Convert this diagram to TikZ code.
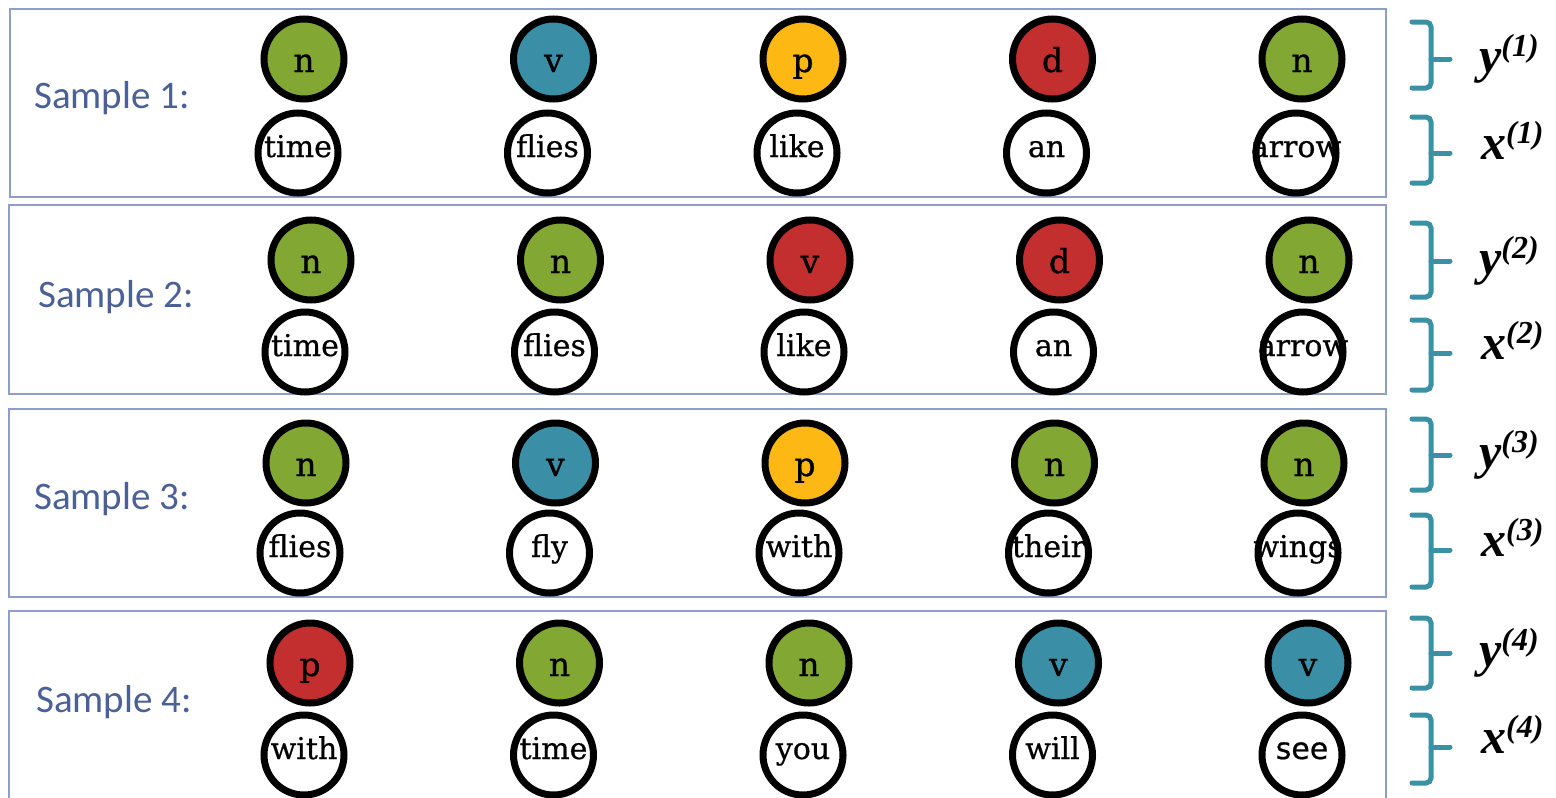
\documentclass[tikz,border=0pt]{standalone}
\usepackage{fontspec}
\newfontfamily\samplefont{Carlito}
\newfontfamily\wordfont[FakeBold=0.6]{DejaVu Serif}
\newfontfamily\tagfont[FakeBold=0.8]{DejaVu Serif}
\newfontfamily\sansword[FakeBold=0.6]{DejaVu Sans}
\newfontfamily\tmsfont{Liberation Serif}
\definecolor{gr}{HTML}{82A833}
\definecolor{te}{HTML}{3A8FA6}
\definecolor{ye}{HTML}{FDB813}
\definecolor{rd}{HTML}{C32F2F}
\definecolor{panelc}{HTML}{8E9DCA}
\definecolor{samplec}{HTML}{4A6096}
\definecolor{bracec}{HTML}{3A91A5}
\tikzset{
  panel/.style={draw=panelc, line width=2.5pt},
  tagc/.style={circle, draw=black, line width=7pt, minimum size=80pt, inner sep=0pt},
  wordc/.style={circle, draw=black, line width=7pt, minimum size=80pt, inner sep=0pt, fill=white},
  wtext/.style={anchor=base, inner sep=0pt, font=\wordfont\fontsize{30}{30}\selectfont},
  ttext/.style={anchor=base, inner sep=0pt, font=\tagfont\fontsize{33}{33}\selectfont},
  slabel/.style={anchor=base west, inner sep=0pt, text=samplec, font=\samplefont\fontsize{39}{39}\selectfont},
  bracestyle/.style={draw=bracec, line width=5pt, rounded corners=5pt, line cap=round},
  vlabel/.style={anchor=base west, inner sep=0pt, font=\tmsfont\bfseries\itshape\fontsize{50}{50}\selectfont}
}
\newcommand{\supr}[1]{\raisebox{16pt}{\fontsize{32}{32}\selectfont(#1)}}
\begin{document}
\begin{tikzpicture}[x=1pt,y=-1pt]
\useasboundingbox (0,0) rectangle (1556,798);
\clip (0,0) rectangle (1556,798);
\fill[white] (0,0) rectangle (1556,798);
% panels
\draw[panel] (10,9) rectangle (1386,197);
\draw[panel] (9,205) rectangle (1386,394);
\draw[panel] (9,409) rectangle (1386,597);
\draw[panel] (9,611) rectangle (1386,830);
% sample labels
\node[slabel] (s1) at (34,108) {Sample 1:};
\node[slabel] (s2) at (38,307) {Sample 2:};
\node[slabel] (s3) at (34,509) {Sample 3:};
\node[slabel] (s4) at (36,712) {Sample 4:};
% circles
\foreach \p/\ty/\wy/\xo/\tags/\words in {
  1/59/153/304/{gr/n,te/v,ye/p,rd/d,gr/n}/{time,flies,like,an,arrow},
  2/260/352/311/{gr/n,gr/n,rd/v,rd/d,gr/n}/{time,flies,like,an,arrow},
  3/463/553/306/{gr/n,te/v,ye/p,gr/n,gr/n}/{flies,fly,with,their,wings},
  4/663/755/310/{rd/p,gr/n,gr/n,te/v,te/v}/{with,time,you,will,\sansword see}}{
  \foreach \c/\l [count=\k] in \tags {
    \node[tagc, fill=\c] (t\p-\k) at ({\xo+(\k-1)*249.5},\ty) {};
    \node[ttext] (tl\p-\k) at ([yshift=-13pt]t\p-\k.center) {\l};
  }
  \foreach \w [count=\k] in \words {
    \node[wordc] (w\p-\k) at ({\xo-6+(\k-1)*249.5},\wy) {};
    \node[wtext] (wl\p-\k) at ([yshift=-4pt]w\p-\k.center) {\w};
  }
}
% braces and labels
\foreach \p/\ya/\ym/\yb/\xa/\xm/\xb in {
  1/22/59/88/117/153/183,
  2/223/261/297/320/353/390,
  3/419/455/490/515/550/587,
  4/618/653/688/715/747/783}{
  \coordinate (by\p a) at (1412,\ya);
  \coordinate (by\p b) at (1412,\yb);
  \coordinate (by\p m) at (1450,\ym);
  \draw[bracestyle] (by\p a) -- (1431,\ya) -- (1431,\yb) -- (by\p b);
  \draw[bracestyle] (1431,\ym) -- (by\p m);
  \coordinate (bx\p a) at (1412,\xa);
  \coordinate (bx\p b) at (1412,\xb);
  \coordinate (bx\p m) at (1450,\xm);
  \draw[bracestyle] (bx\p a) -- (1431,\xa) -- (1431,\xb) -- (bx\p b);
  \draw[bracestyle] (1431,\xm) -- (bx\p m);
  \node[vlabel] (ly\p) at (1479,\ym+13) {y\supr{\p}};
  \node[vlabel] (lx\p) at (1481,\xm+6) {x\supr{\p}};
}
\end{tikzpicture}
\end{document}
